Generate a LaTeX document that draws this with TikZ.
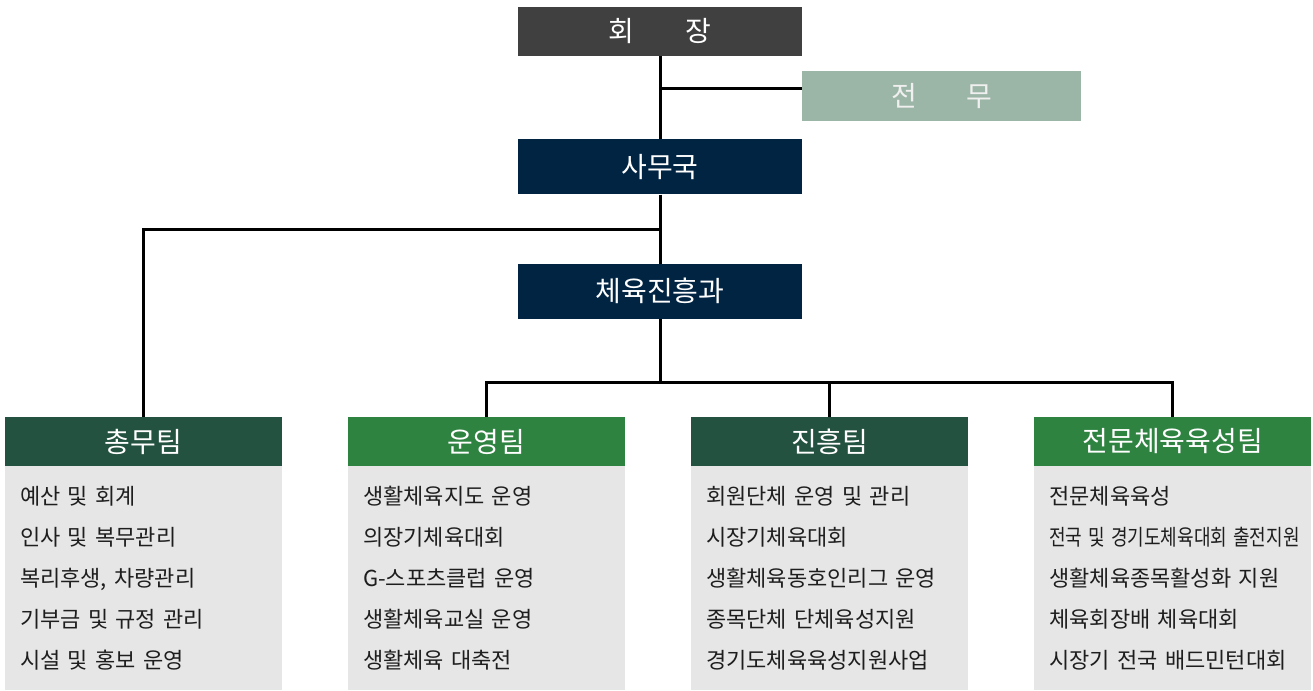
\documentclass[tikz,border=0pt]{standalone}
\usepackage{fontspec}
\usepackage{graphicx}
\setmainfont[WordSpace=3]{Noto Sans CJK KR}
\usepackage{tikz}
\usetikzlibrary{positioning, calc}

\definecolor{boss}{HTML}{404040}
\definecolor{advisor}{HTML}{9BB5A6}
\definecolor{navy}{HTML}{012443}
\definecolor{deepgreen}{HTML}{245240}
\definecolor{leafgreen}{HTML}{2E8341}
\definecolor{panel}{HTML}{E6E6E6}
\definecolor{ink}{HTML}{1E1E1E}

\tikzset{
	unit/.style = {minimum width = 284pt, inner sep = 0pt, text = white,
		font = \fontsize{28pt}{32pt}\selectfont},
	team/.style = {minimum width = 277pt, minimum height = 49pt, inner sep = 0pt,
		text = white, font = \fontsize{28pt}{32pt}\selectfont},
	tasks/.style = {fill = panel, text = ink, text width = 247pt, align = left,
		inner xsep = 15pt, inner ysep = 0pt, minimum height = 224pt,
		font = \fontsize{22pt}{41pt}\selectfont},
	link/.style = {line width = 3pt},
}

\begin{document}
\begin{tikzpicture}[x = 1pt, y = 1pt]
		\useasboundingbox (0, 0) rectangle (1313, -690);
		\node [unit, fill = boss, minimum height = 49pt] (a) at (660, -31.5) {회\hspace{51pt}장};
		\node [below right = 15pt and 0pt of a.south east, anchor = north west, unit, fill = advisor,
			minimum width = 279pt, minimum height = 50pt, text = white!94!black] (b) {전\hspace{50pt}무};
		\node [below = 83pt of a, unit, fill = navy, minimum height = 55pt] (c) {사무국};
		\node [below = 69pt of c, unit, fill = navy, minimum height = 55pt] (d) {체육진흥과};

		\node [team, fill = deepgreen] (e1) at (143.5, -441.5) {총무팀};
		\node [right = 65.7pt of e1, team, fill = leafgreen] (e2) {운영팀};
		\node [right = 65.7pt of e2, team, fill = deepgreen] (e3) {진흥팀};
		\node [right = 65.7pt of e3, team, fill = leafgreen] (e4) {전문체육육성팀};

		\node [below = 0pt of e1, tasks] (f1) {예산 및 회계\\인사 및 복무관리\\복리후생, 차량관리\\기부금 및 규정 관리\\시설 및 홍보 운영};
		\node [below = 0pt of e2, tasks] (f2) {생활체육지도 운영\\의장기체육대회\\G-스포츠클럽 운영\\생활체육교실 운영\\생활체육 대축전};
		\node [below = 0pt of e3, tasks] (f3) {회원단체 운영 및 관리\\시장기체육대회\\생활체육동호인리그 운영\\종목단체 단체육성지원\\경기도체육육성지원사업};
		\node [below = 0pt of e4, tasks] (f4) {전문체육육성\\\scalebox{0.82}[1]{전국 및 경기도체육대회 출전지원}\\생활체육종목활성화 지원\\체육회장배 체육대회\\시장기 전국 배드민턴대회};

		\coordinate (ab) at ($(a.south)!0.385!(c.north)$);
		\coordinate (cd) at ($(c.south)!0.5!(d.north)$);
		\coordinate (bus) at ($(d.south)!0.646!(d.south |- e1.north)$);

		\draw [link] (a.south) -- (c.north);
		\draw [link] (ab) -- (ab -| b.west);
		\draw [link] (c.south) -- (d.north);
		\draw [link] (cd) -| (e1.north);
		\draw [link] (d.south) -- (bus);
		\draw [link] (e2.north) |- (bus) -| (e4.north);
		\draw [link] (bus -| e3.north) -- (e3.north);
\end{tikzpicture}
\end{document}
